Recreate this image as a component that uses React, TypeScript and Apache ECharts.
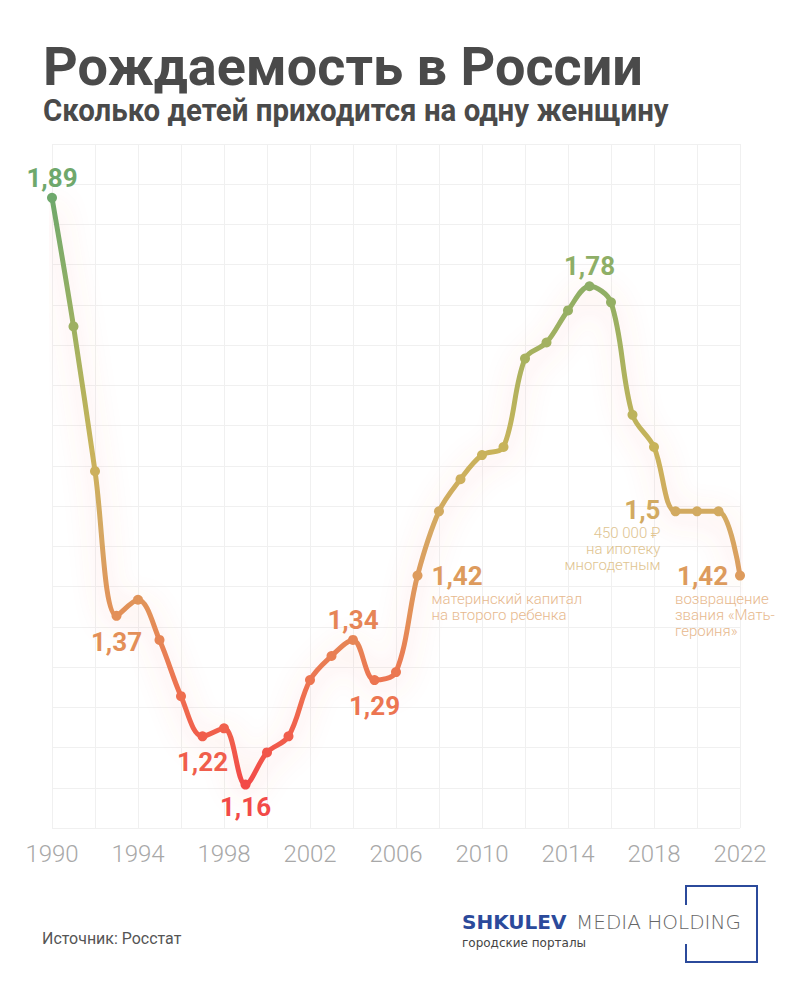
import React, { useEffect, useRef } from "react";
import * as echarts from "echarts";

const years = [
  1990, 1991, 1992, 1993, 1994, 1995, 1996, 1997, 1998, 1999, 2000, 2001, 2002,
  2003, 2004, 2005, 2006, 2007, 2008, 2009, 2010, 2011, 2012, 2013, 2014, 2015,
  2016, 2017, 2018, 2019, 2020, 2021, 2022,
];
const tfr = [
  1.89, 1.73, 1.55, 1.37, 1.39, 1.34, 1.27, 1.22, 1.23, 1.16, 1.2, 1.22, 1.29,
  1.32, 1.34, 1.29, 1.3, 1.42, 1.5, 1.54, 1.57, 1.58, 1.69, 1.71, 1.75, 1.78,
  1.76, 1.62, 1.58, 1.5, 1.5, 1.5, 1.42,
];
const xTickLabels = ["1990", "1994", "1998", "2002", "2006", "2010", "2014", "2018", "2022"];
const labelTopYears = [1990, 2004, 2015];
const labelBottomYears = [1993, 1997, 1999, 2005];
const note2007 = ["материнский капитал", "на второго ребенка"];
const note2019 = ["450 000 ₽", "на ипотеку", "многодетным"];
const note2022 = ["возвращение", "звания «Мать-", "героиня»"];

const TITLE = "Рождаемость в России";
const SUBTITLE = "Сколько детей приходится на одну женщину";
const SOURCE = "Источник: Росстат";

const palette = ["#f24a48", "#ef6c4f", "#e38f58", "#d6a763", "#c8b35a", "#abb25e", "#8cae66", "#6fa86c"];
const vMin = 1.16;
const vMax = 1.89;

function hexToRgb(h: string) {
  const n = parseInt(h.slice(1), 16);
  return [(n >> 16) & 255, (n >> 8) & 255, n & 255];
}
function colorAt(v: number, lighten = 0) {
  const t = Math.max(0, Math.min(1, (v - vMin) / (vMax - vMin))) * (palette.length - 1);
  const i = Math.min(palette.length - 2, Math.floor(t));
  const f = t - i;
  const a = hexToRgb(palette[i]);
  const b = hexToRgb(palette[i + 1]);
  const c = a.map((x, k) => Math.round((x + (b[k] - x) * f) * (1 - lighten) + 255 * lighten));
  return `rgb(${c[0]},${c[1]},${c[2]})`;
}
const fmt = (v: number) => String(v).replace(".", ",");

function labelFor(year: number, v: number): any {
  const col = colorAt(v);
  const base = { show: true, color: col, fontFamily: "Roboto", fontWeight: "bold", fontSize: 26, lineHeight: 28, formatter: fmt(v) };
  if (labelTopYears.includes(year)) return { ...base, position: "top", distance: 1 };
  if (labelBottomYears.includes(year)) return { ...base, position: "bottom", distance: year === 1999 ? 3 : 7 };
  const rich = (alignV: string, alignN: string, padV: number[]) => ({
    v: { fontFamily: "Roboto", fontWeight: "bold", fontSize: 26, lineHeight: 30, color: col, align: alignV, padding: padV },
    n: { fontFamily: "Roboto", fontWeight: 300, fontSize: 15, lineHeight: 16, color: colorAt(v, 0.3), align: alignN },
  });
  const compose = (lines: string[]) => [`{v|${fmt(v)}}`, ...lines.map((l) => `{n|${l}}`)].join("\n");
  if (year === 2007)
    return { show: true, position: "inside", align: "left", verticalAlign: "top", offset: [14, -15], formatter: compose(note2007), rich: rich("left", "left", [0, 0, 0, 0]) };
  if (year === 2019)
    return { show: true, position: "inside", align: "right", verticalAlign: "top", offset: [-15, -16], formatter: compose(note2019), rich: rich("right", "right", [0, 0, 0, 0]) };
  if (year === 2022)
    return { show: true, position: "inside", align: "left", verticalAlign: "top", offset: [-65, -15], formatter: compose(note2022), rich: rich("left", "left", [0, 0, 0, 2]) };
  return undefined;
}

export default function App() {
  const ref = useRef<HTMLDivElement>(null);
  useEffect(() => {
    if (!ref.current) return;
    const chart = echarts.init(ref.current, undefined, { renderer: "svg" });
    const data = years.map((y, i) => {
      const lab = labelFor(y, tfr[i]);
      return lab ? { value: [y, tfr[i]], label: lab } : { value: [y, tfr[i]] };
    });
    const gridColor = "#f0f0f0";
    chart.setOption({
      animation: false,
      backgroundColor: "#ffffff",
      textStyle: { fontFamily: "Roboto" },
      grid: { left: 52, right: 60, top: 144, bottom: 172, containLabel: false },
      xAxis: {
        type: "value",
        min: 1990,
        max: 2022,
        interval: 2,
        axisLine: { show: false },
        axisTick: { show: false },
        splitLine: { show: true, lineStyle: { color: gridColor, width: 1 } },
        axisLabel: {
          show: true,
          showMinLabel: true,
          showMaxLabel: true,
          margin: 14,
          color: "#a8a8a8",
          fontFamily: "Roboto",
          fontWeight: 300,
          fontSize: 24,
          formatter: (val: number) => (xTickLabels.includes(String(val)) ? String(val) : ""),
        },
      },
      yAxis: [
        {
          type: "value",
          min: 1.106,
          max: 1.957,
          axisLine: { show: false },
          axisTick: { show: false },
          axisLabel: { show: false },
          splitLine: { show: false },
        },
        {
          type: "value",
          min: 0,
          max: 17,
          interval: 1,
          position: "left",
          axisLine: { show: false },
          axisTick: { show: false },
          axisLabel: { show: false },
          splitLine: { show: true, lineStyle: { color: gridColor, width: 1 } },
        },
      ],
      visualMap: {
        type: "continuous",
        show: false,
        seriesIndex: 0,
        dimension: 1,
        min: vMin,
        max: vMax,
        inRange: { color: palette },
      },
      series: [
        {
          type: "line",
          yAxisIndex: 0,
          data,
          smooth: 0.35,
          symbol: "circle",
          symbolSize: 10,
          lineStyle: { width: 5, shadowBlur: 28, shadowColor: "rgba(240,100,80,0.3)", shadowOffsetY: 6 },
          z: 3,
        },
      ],
      graphic: [
        { type: "text", x: 43, y: 66, style: { text: TITLE, fontFamily: "Roboto", fontWeight: "bold", fontSize: 54, fill: "#4a4a4a", align: "left", verticalAlign: "middle" } },
        { type: "text", x: 43, y: 110, scaleX: 0.95, style: { text: SUBTITLE, fontFamily: "Roboto", fontWeight: "bold", fontSize: 31, fill: "#4a4a4a", align: "left", verticalAlign: "middle" } },
        { type: "text", x: 42, y: 938, scaleX: 0.94, style: { text: SOURCE, fontFamily: "Roboto", fontSize: 17, fill: "#555555", align: "left", verticalAlign: "middle" } },
        { type: "text", x: 462, y: 922, style: { text: "SHKULEV", fontFamily: "DejaVu Sans", fontWeight: "bold", fontSize: 20, fill: "#2b4a9b", align: "left", verticalAlign: "middle" } },
        { type: "text", x: 576, y: 922, style: { text: "MEDIA HOLDING", fontFamily: "DejaVu Sans", fontWeight: 200, fontSize: 20, fill: "#666666", align: "left", verticalAlign: "middle" } },
        { type: "text", x: 462, y: 943, style: { text: "городские порталы", fontFamily: "DejaVu Sans", fontSize: 12, fill: "#444444", align: "left", verticalAlign: "middle" } },
        {
          type: "polyline",
          shape: { points: [[686, 905], [686, 886], [757, 886], [757, 962], [686, 962], [686, 944]] },
          style: { stroke: "#2b4a9b", lineWidth: 2, fill: "none" },
        },
      ],
    });
    return () => chart.dispose();
  }, []);
  return <div ref={ref} style={{ position: "absolute", left: 0, top: 0, width: 800, height: 1000 }} />;
}
